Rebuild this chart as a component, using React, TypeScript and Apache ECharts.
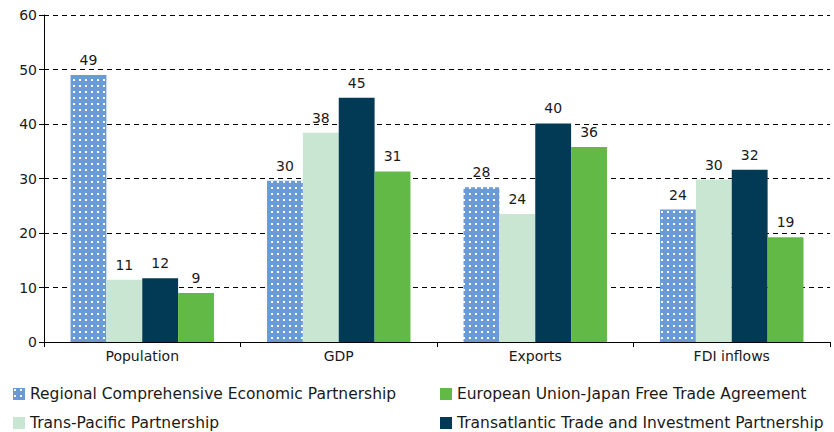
import React, { useEffect, useRef } from "react";
import * as echarts from "echarts";

const categories = ["Population", "GDP", "Exports", "FDI inflows"];
const seriesNames = [
  "Regional Comprehensive Economic Partnership",
  "Trans-Pacific Partnership",
  "Transatlantic Trade and Investment Partnership",
  "European Union-Japan Free Trade Agreement",
];
const rcep = [49.0, 29.6, 28.4, 24.3];
const tpp = [11.4, 38.4, 23.5, 29.8];
const ttip = [11.7, 44.8, 40.1, 31.6];
const euj = [9.0, 31.3, 35.8, 19.2];
const yTicks = [0, 10, 20, 30, 40, 50, 60];

const FONT = "DejaVu Sans, sans-serif";

function makePattern() {
  const c = document.createElement("canvas");
  c.width = 6;
  c.height = 6;
  const ctx = c.getContext("2d")!;
  ctx.fillStyle = "#6b9bd6";
  ctx.fillRect(0, 0, 6, 6);
  ctx.fillStyle = "#ffffff";
  ctx.fillRect(1, 1, 2, 2);
  return c;
}

export default function App() {
  const ref = useRef<HTMLDivElement>(null);
  useEffect(() => {
    if (!ref.current) return;
    const chart = echarts.init(ref.current, null, { renderer: "svg" });
    const pattern = { image: makePattern(), repeat: "repeat" } as any;
    const label = {
      show: true,
      position: "top",
      distance: 8,
      color: "#1a1a1a",
      fontSize: 14,
      fontFamily: FONT,
      formatter: (p: any) => String(Math.round(p.value)),
    };
    const mk = (name: string, data: number[], color: any) => ({
      name,
      type: "bar",
      data,
      barGap: "0%",
      barCategoryGap: "27%",
      itemStyle: { color },
      label,
    });
    const legendBase = {
      orient: "vertical",
      top: 386,
      height: 70,
      itemWidth: 12,
      itemHeight: 12,
      itemGap: 13,
      icon: "rect",
      padding: 0,
      textStyle: { color: "#1a1a1a", fontSize: 15.5, fontFamily: FONT },
    };
    chart.setOption({
      animation: false,
      grid: { left: 44, right: 4, top: 15, bottom: 90 },
      xAxis: {
        type: "category",
        data: categories,
        axisLine: { lineStyle: { color: "#000", width: 1 } },
        axisTick: { show: true, alignWithLabel: false, length: 5, lineStyle: { color: "#000" } },
        axisLabel: { color: "#1a1a1a", fontSize: 14, fontFamily: FONT, margin: 7 },
      },
      yAxis: {
        type: "value",
        min: yTicks[0],
        max: yTicks[yTicks.length - 1],
        interval: 10,
        axisLine: { show: true, lineStyle: { color: "#000", width: 1 } },
        axisTick: { show: true, length: 5, lineStyle: { color: "#000" } },
        axisLabel: { color: "#1a1a1a", fontSize: 14, fontFamily: FONT, margin: 7 },
        splitLine: { show: true, lineStyle: { color: "#000", type: [5, 4], width: 1 } },
      },
      legend: [
        { ...legendBase, left: 13, data: [seriesNames[0], seriesNames[1]] },
        { ...legendBase, left: 440, data: [seriesNames[3], seriesNames[2]] },
      ],
      series: [
        mk(seriesNames[0], rcep, pattern),
        mk(seriesNames[1], tpp, "#c9e6d3"),
        mk(seriesNames[2], ttip, "#023a55"),
        mk(seriesNames[3], euj, "#62b946"),
      ],
    });
    return () => chart.dispose();
  }, []);
  return <div ref={ref} style={{ width: 834, height: 432, position: "absolute", left: 0, top: 0 }} />;
}
